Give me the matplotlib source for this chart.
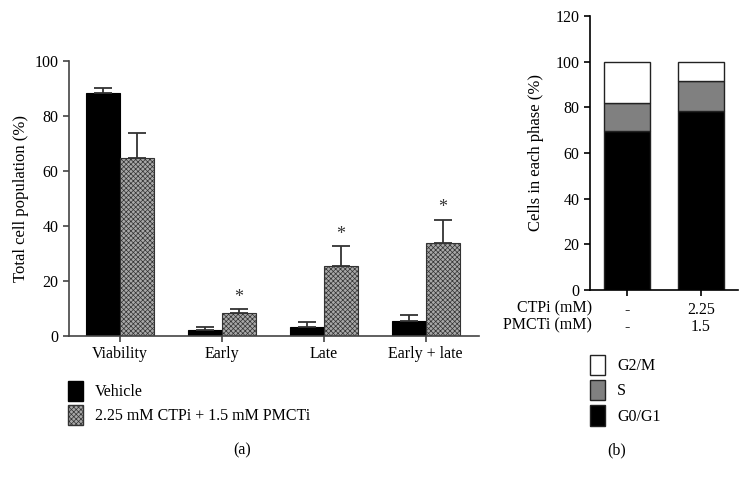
import numpy as np
import matplotlib
matplotlib.use("Agg")
import matplotlib.pyplot as plt
from matplotlib.patches import Patch

plt.rcParams["font.family"] = ["Liberation Serif", "DejaVu Serif"]
plt.rcParams["font.size"] = 11.5
plt.rcParams["hatch.linewidth"] = 0.5

# panel (a)
categories = ["Viability", "Early", "Late", "Early + late"]
vehicle = [88.2, 2.1, 3.4, 5.4]
vehicle_err = [2.0, 1.3, 1.8, 2.3]
treated = [64.8, 8.5, 25.5, 34.0]
treated_err = [9.1, 1.2, 7.2, 8.3]
significant = [False, True, True, True]
labels_a = ["Vehicle", "2.25 mM CTPi + 1.5 mM PMCTi"]

# panel (b)
conditions = ["-\n-", "2.25\n1.5"]
row_labels = "CTPi (mM)\nPMCTi (mM)"
g0g1 = [69.5, 78.5]
s_phase = [12.3, 13.2]
g2m = [18.2, 8.3]

gray_face = "#a8a8a8"
gray_hatch = "xxxxxxx"

fig = plt.figure(figsize=(7.49, 4.83), dpi=100)

axA = fig.add_axes([0.0921, 0.3043, 0.547, 0.5694])
x = np.arange(len(categories))
w = 0.335
errkw = dict(ecolor="#333333", elinewidth=1.3, capsize=6.5, capthick=1.3)
axA.bar(x - w / 2, vehicle, w, color="black", edgecolor="black", linewidth=0.8,
        yerr=[np.zeros(len(x)), vehicle_err], error_kw=errkw)
axA.bar(x + w / 2, treated, w, color=gray_face, edgecolor="#333333", linewidth=0.8,
        hatch=gray_hatch, yerr=[np.zeros(len(x)), treated_err], error_kw=errkw)
for i in range(len(x)):
    if significant[i]:
        axA.text(x[i] + w / 2, treated[i] + treated_err[i] + 1.3, "*",
                 ha="center", va="bottom", fontsize=13, color="#333333")
axA.set_xlim(-0.5, 3.52)
axA.set_ylim(0, 100)
axA.set_yticks([0, 20, 40, 60, 80, 100])
axA.set_xticks(x)
axA.set_xticklabels(categories)
axA.set_ylabel("Total cell population (%)", fontsize=12)
for sp in ["top", "right"]:
    axA.spines[sp].set_visible(False)
for sp in ["left", "bottom"]:
    axA.spines[sp].set_color("#444444")
    axA.spines[sp].set_linewidth(1.2)
axA.tick_params(direction="out", length=4, color="#444444", width=1.2)

fig.legend(handles=[Patch(facecolor="black", edgecolor="black"),
                    Patch(facecolor=gray_face, edgecolor="#333333", hatch=gray_hatch)],
           labels=labels_a, loc="upper left", bbox_to_anchor=(0.0908, 0.212),
           frameon=False, handlelength=0.95, handleheight=1.55, labelspacing=0.25,
           handletextpad=0.75, borderaxespad=0, borderpad=0, fontsize=11.5)
fig.text(242 / 749, 1 - 450 / 483, "(a)", ha="center", va="center", fontsize=11.5)

axB = fig.add_axes([0.7877, 0.3996, 0.1976, 0.5673])
xb = np.arange(len(conditions))
wb = 0.62
axB.bar(xb, g0g1, wb, color="black", edgecolor="#222222", linewidth=1.0, label="G0/G1")
axB.bar(xb, s_phase, wb, bottom=g0g1, color="#808080", edgecolor="#222222",
        linewidth=1.0, label="S")
axB.bar(xb, g2m, wb, bottom=np.add(g0g1, s_phase), color="white",
        edgecolor="#222222", linewidth=1.0, label="G2/M")
axB.set_xlim(-0.5, 1.5)
axB.set_ylim(0, 120)
axB.set_yticks([0, 20, 40, 60, 80, 100, 120])
axB.set_xticks(xb)
axB.set_xticklabels(conditions, linespacing=1.1)
axB.tick_params(axis="x", pad=4.5)
axB.annotate(row_labels, xy=(0, 0), xycoords="axes fraction", xytext=(1.5, -7.5),
             textcoords="offset points", ha="right", va="top", linespacing=1.1,
             fontsize=11.5)
axB.set_ylabel("Cells in each phase (%)", fontsize=12, labelpad=8)
for sp in ["top", "right"]:
    axB.spines[sp].set_visible(False)
for sp in ["left", "bottom"]:
    axB.spines[sp].set_linewidth(1.2)
axB.tick_params(direction="out", length=4, width=1.2)

h, l = axB.get_legend_handles_labels()
fig.legend(handles=h[::-1], labels=l[::-1], loc="upper left",
           bbox_to_anchor=(0.7877, 0.266), frameon=False, handlelength=0.95,
           handleheight=1.6, labelspacing=0.3, handletextpad=0.75,
           borderaxespad=0, borderpad=0, fontsize=11.5)
fig.text(617 / 749, 1 - 450 / 483, "(b)", ha="center", va="center", fontsize=11.5)

fig.savefig("out.png", dpi=100)
